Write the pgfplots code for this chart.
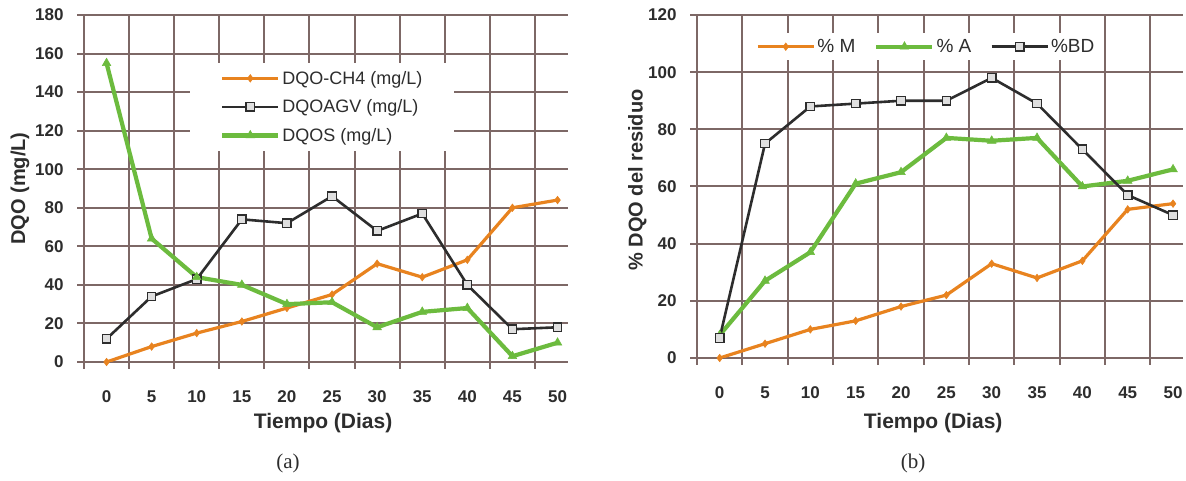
\documentclass[border=0pt]{standalone}
\usepackage{pgfplots}
\pgfplotsset{compat=1.18}
\usepackage{fontspec}
\setmainfont{Liberation Sans}
\newfontfamily\capfont{Liberation Serif}
\definecolor{gridc}{RGB}{125,104,102}
\definecolor{ocol}{RGB}{232,131,31}
\definecolor{gcol}{RGB}{108,187,62}
\definecolor{kcol}{RGB}{45,45,45}
\definecolor{txt}{RGB}{45,45,45}
\pgfplotsset{
  mystyle/.style={
    scale only axis,
    axis x line*=bottom, axis y line*=left,
    axis line style={-, gridc, line width=2pt},
    xtick={0,5,...,50},
    minor xtick={-2.5,2.5,...,47.5},
    xminorgrids=true, ymajorgrids=true, xmajorgrids=false,
    grid style={gridc, line width=2pt},
    minor grid style={gridc, line width=2pt},
    tick align=outside,
    major tick length=7pt, minor tick length=7pt,
    every tick/.style={gridc, line width=2pt},
    major x tick style={draw=none},
    /pgf/number format/assume math mode=true,
    ticklabel style={font=\bfseries\fontsize{17}{20}\selectfont, text=txt},
    xticklabel style={yshift=-18pt},
    yticklabel style={xshift=-10pt},
    legend image code/.code={\draw[mark repeat=2,mark phase=2,##1] plot coordinates {(0pt,0pt) (28pt,0pt) (56pt,0pt)};},
  },
  sero/.style={ocol, line width=3.2pt, mark=diamond*, mark size=3.8pt, mark options={solid, fill=ocol, draw=ocol, line width=0.5pt}},
  serk/.style={kcol, line width=2.6pt, mark=square*, mark size=4.2pt, mark options={solid, fill=gray!25, draw=kcol, line width=1.3pt}},
  serg/.style={gcol, line width=4.2pt, mark=triangle*, mark size=5pt, mark options={solid, fill=gcol, draw=gcol, line width=0.5pt}},
}
\begin{document}
\begin{tikzpicture}
\path[use as bounding box, fill=white] (0pt,0pt) rectangle (1186pt,481pt);
% ---------- (a) ----------
\begin{axis}[mystyle,
  at={(84pt,119pt)}, anchor=south west,
  width=484pt, height=347pt,
  xmin=-2.5, xmax=51.16, ymin=0, ymax=180,
  ytick={0,20,...,180},
  xlabel={Tiempo (Dias)},
  xlabel style={font=\bfseries\fontsize{21}{24}\selectfont, text=txt, at={(axis description cs:0.494,-0.176)}, anchor=center},
  ylabel={DQO (mg/L)},
  ylabel style={font=\bfseries\fontsize{20}{23}\selectfont, text=txt, at={(axis description cs:-0.132,0.5)}, anchor=center},
  legend style={at={(rel axis cs:0.219,0.862)}, anchor=north west, draw=none, fill=white,
    font=\fontsize{18}{21}\selectfont, text=txt, cells={anchor=west}, inner xsep=30pt, inner ysep=6pt, row sep=10pt},
]
\addplot[sero] coordinates {(0,0) (5,8) (10,15) (15,21) (20,28) (25,35) (30,51) (35,44) (40,53) (45,80) (50,84)};
\addlegendentry{DQO-CH4 (mg/L)}
\addplot[serk] coordinates {(0,12) (5,34) (10,43) (15,74) (20,72) (25,86) (30,68) (35,77) (40,40) (45,17) (50,18)};
\addlegendentry{DQOAGV (mg/L)}
\addplot[serg] coordinates {(0,155) (5,64) (10,44) (15,40) (20,30) (25,31) (30,18) (35,26) (40,28) (45,3) (50,10)};
\addlegendentry{DQOS (mg/L)}
\end{axis}
% ---------- (b) ----------
\begin{axis}[mystyle,
  at={(697pt,123pt)}, anchor=south west,
  width=486pt, height=343pt,
  xmin=-2.5, xmax=51.1, ymin=0, ymax=120,
  ytick={0,20,...,120},
  xlabel={Tiempo (Dias)},
  xlabel style={font=\bfseries\fontsize{21}{24}\selectfont, text=txt, at={(axis description cs:0.486,-0.190)}, anchor=center},
  ylabel={\% DQO del residuo},
  ylabel style={font=\bfseries\fontsize{20}{23}\selectfont, text=txt, at={(axis description cs:-0.123,0.519)}, anchor=center},
  legend columns=3,
  legend style={at={(rel axis cs:0.109,0.947)}, anchor=north west, draw=none, fill=white,
    font=\fontsize{19}{22}\selectfont, text=txt, inner xsep=6pt, inner ysep=4pt,
    /tikz/every even column/.append style={column sep=17pt}},
]
\addplot[sero] coordinates {(0,0) (5,5) (10,10) (15,13) (20,18) (25,22) (30,33) (35,28) (40,34) (45,52) (50,54)};
\addlegendentry{\% M}
\addplot[serg] coordinates {(0,8) (5,27) (10,37) (15,61) (20,65) (25,77) (30,76) (35,77) (40,60) (45,62) (50,66)};
\addlegendentry{\% A}
\addplot[serk] coordinates {(0,7) (5,75) (10,88) (15,89) (20,90) (25,90) (30,98) (35,89) (40,73) (45,57) (50,50)};
\addlegendentry{\%BD}
\end{axis}
\node[font=\capfont\fontsize{21}{24}\selectfont, text=txt] at (288pt,18pt) {(a)};
\node[font=\capfont\fontsize{21}{24}\selectfont, text=txt] at (913pt,18pt) {(b)};
\end{tikzpicture}
\end{document}
